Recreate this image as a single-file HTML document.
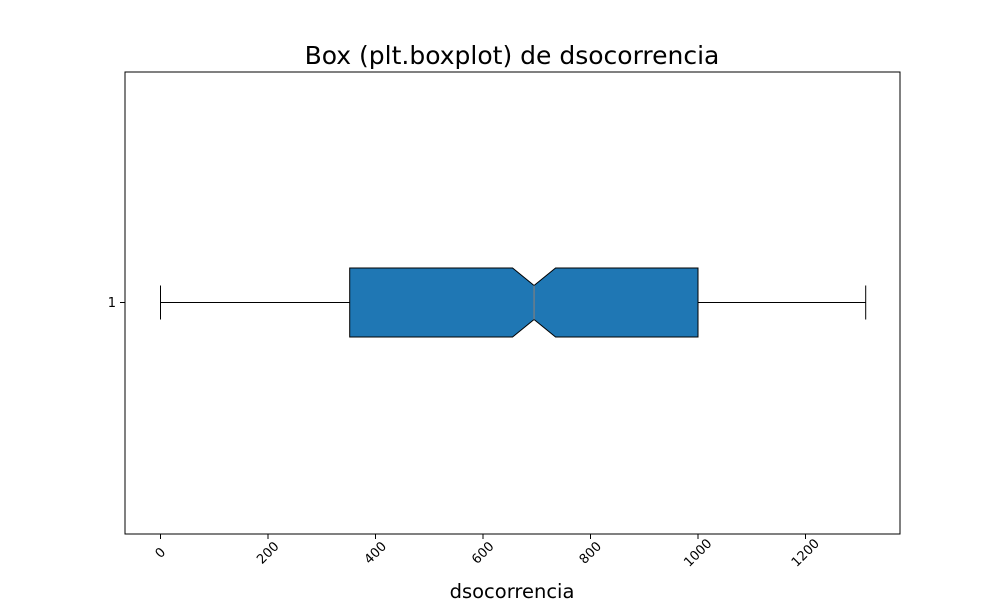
<!DOCTYPE html>
<html><head><meta charset="utf-8"><style>body{margin:0;background:#fff}svg{display:block;font-family:"DejaVu Sans","Liberation Sans",sans-serif}</style></head>
<body>
<svg id="chart" width="1000" height="600" viewBox="0 0 1000 600">
<rect x="0" y="0" width="1000" height="600" fill="#fff"/>
<text x="512" y="64" font-size="25" text-anchor="middle" fill="#000">Box (plt.boxplot) de dsocorrencia</text>
<g id="plot"></g>
<rect x="125" y="72" width="775" height="462" fill="none" stroke="#000" stroke-width="1"/>
<text x="512" y="598" font-size="19.5" text-anchor="middle" fill="#000">dsocorrencia</text>
<line x1="120" y1="302.5" x2="125" y2="302.5" stroke="#000"/>
<text x="116" y="307" font-size="13" text-anchor="end">1</text>
</svg>
<script>
const xTicks = [0, 200, 400, 600, 800, 1000, 1200];
const whiskerLow = [0];
const whiskerHigh = [1312];
const q1 = [352];
const q3 = [1000];
const median = [695];
const notchLow = [655];
const notchHigh = [735];

const NS = 'http://www.w3.org/2000/svg';
const svg = document.getElementById('chart');
const g = document.getElementById('plot');
function x(v){ return 160.5 + v * 0.5375; }
const cy = 302.5, hb = 34.5, hn = 17, hc = 17;
function mk(tag, attrs, parent){ const e = document.createElementNS(NS, tag); for (const k in attrs) e.setAttribute(k, attrs[k]); (parent||g).appendChild(e); return e; }

xTicks.forEach(t => {
  const l = mk('line', {x1:x(t), x2:x(t), y1:534, y2:539, stroke:'#000'}, svg);
  
  
  const tx = mk('text', {x:x(t), y:557, 'font-size':13, 'text-anchor':'middle', transform:`rotate(-45 ${x(t)} 553)`}, svg);
  tx.textContent = t;
  
  
});

const a = x(q1[0]), b = x(q3[0]), m = x(median[0]), nl = x(notchLow[0]), nh = x(notchHigh[0]);
const w1 = mk('line', {x1:x(whiskerLow[0]), x2:a, y1:cy, y2:cy, stroke:'#000'});


const w2 = mk('line', {x1:b, x2:x(whiskerHigh[0]), y1:cy, y2:cy, stroke:'#000'});


const c1 = mk('line', {x1:x(whiskerLow[0]), x2:x(whiskerLow[0]), y1:cy-hc, y2:cy+hc, stroke:'#000'});


const c2 = mk('line', {x1:x(whiskerHigh[0]), x2:x(whiskerHigh[0]), y1:cy-hc, y2:cy+hc, stroke:'#000'});


const pts = [[a,cy-hb],[nl,cy-hb],[m,cy-hn],[nh,cy-hb],[b,cy-hb],[b,cy+hb],[nh,cy+hb],[m,cy+hn],[nl,cy+hb],[a,cy+hb]];
const box = mk('polygon', {points:pts.map(p=>p.join(',')).join(' '), fill:'#1f77b4', stroke:'#000', 'stroke-width':1});


const med = mk('line', {x1:m, x2:m, y1:cy-hn, y2:cy+hn, stroke:'#7f7f7f', 'stroke-width':1.2});


</script>
</body></html>
